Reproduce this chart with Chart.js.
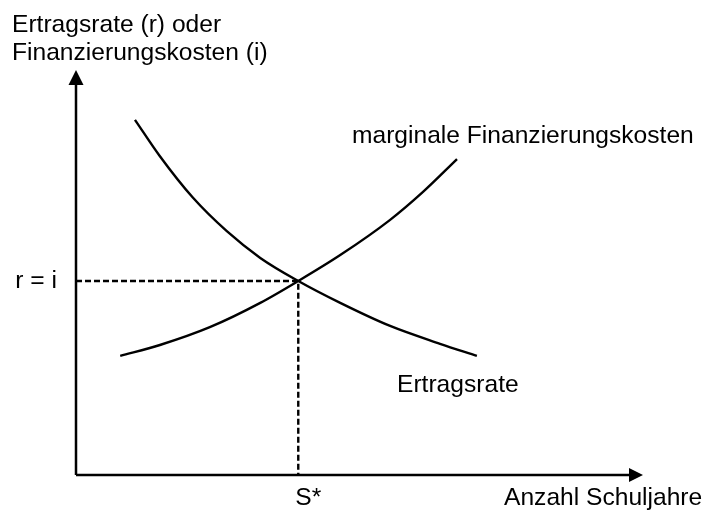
<!DOCTYPE html>
<html>
<head>
<meta charset="utf-8">
<script src="https://cdn.jsdelivr.net/npm/chart.js@4.4.1/dist/chart.umd.min.js"></script>
<style>
  html, body { margin: 0; padding: 0; background: #fff; }
  #wrap { width: 704px; height: 512px; }
</style>
</head>
<body>
<div id="wrap"><canvas id="chart" width="704" height="512"></canvas></div>
<script>
// Ertragsrate (fallend) und marginale Finanzierungskosten (steigend)
const ertragX = [10.4, 14.8, 20.6, 26.6, 32.5, 39.2, 46.6, 55.4, 64.2, 70.7];
const ertragY = [87.7, 78.7, 68.5, 60.2, 53.6, 47.9, 42.5, 36.8, 32.4, 29.4];
const kostenX = [7.8, 14.8, 23.6, 32.5, 39.2, 46.6, 55.4, 61.2, 67.2];
const kostenY = [29.4, 32.1, 36.5, 42.5, 47.9, 54.3, 63.0, 69.9, 78.0];

// Gleichgewicht
const sStar = 39.2;
const rEqualsI = 47.9;
const axisMax = 100;

const yTitle = ["Ertragsrate (r) oder", "Finanzierungskosten (i)"];
const xTitle = "Anzahl Schuljahre";
const curveLabels = ["Ertragsrate", "marginale Finanzierungskosten"];
const eqLabels = ["r = i", "S*"];

const FONT = "24.6px 'Liberation Sans', Arial, sans-serif";

const toPoints = (xs, ys) => xs.map((x, i) => ({ x: x, y: ys[i] }));

const curve = (data) => ({
    data: data,
    showLine: true,
    borderColor: "#000",
    borderWidth: 2.4,
    pointRadius: 0,
    cubicInterpolationMode: "monotone",
    fill: false
});

const guide = (data) => ({
    data: data,
    showLine: true,
    borderColor: "#000",
    borderWidth: 2.4,
    borderDash: [6, 3],
    pointRadius: 0,
    fill: false
});

// axes with arrow heads + all text labels
const diagramPlugin = {
    id: "diagram",
    afterDatasetsDraw(chart) {
        const ctx = chart.ctx;
        const xs = chart.scales.x, ys = chart.scales.y;
        const x0 = xs.getPixelForValue(0), y0 = ys.getPixelForValue(0);
        const xEnd = xs.getPixelForValue(axisMax), yEnd = ys.getPixelForValue(axisMax);

        ctx.save();
        ctx.strokeStyle = "#000";
        ctx.fillStyle = "#000";
        ctx.lineWidth = 2.5;
        ctx.beginPath();
        ctx.moveTo(x0, y0);
        ctx.lineTo(x0, yEnd + 12);
        ctx.moveTo(x0, y0);
        ctx.lineTo(xEnd - 12, y0);
        ctx.stroke();

        // arrow heads
        ctx.beginPath();
        ctx.moveTo(x0, yEnd);
        ctx.lineTo(x0 - 7.5, yEnd + 15);
        ctx.lineTo(x0 + 7.5, yEnd + 15);
        ctx.closePath();
        ctx.fill();
        ctx.beginPath();
        ctx.moveTo(xEnd, y0);
        ctx.lineTo(xEnd - 14, y0 - 7);
        ctx.lineTo(xEnd - 14, y0 + 7);
        ctx.closePath();
        ctx.fill();

        ctx.font = FONT;
        ctx.textBaseline = "alphabetic";
        ctx.textAlign = "left";
        ctx.fillText(yTitle[0], 12, 32);
        ctx.fillText(yTitle[1], 12, 60);
        ctx.fillText(xTitle, 504, 505);
        ctx.fillText(curveLabels[1], 352, 143);
        ctx.fillText(curveLabels[0], 397, 392);

        const sx = xs.getPixelForValue(sStar);
        const ry = ys.getPixelForValue(rEqualsI);
        ctx.fillText(eqLabels[1], sx - 3, 505);
        ctx.textAlign = "right";
        ctx.fillText(eqLabels[0], x0 - 19, ry + 7);
        ctx.restore();
    }
};

new Chart(document.getElementById("chart"), {
    type: "scatter",
    data: {
        datasets: [
            guide([{ x: 0, y: rEqualsI }, { x: sStar, y: rEqualsI }, { x: sStar, y: 0 }]),
            curve(toPoints(ertragX, ertragY)),
            curve(toPoints(kostenX, kostenY))
        ]
    },
    options: {
        responsive: false,
        animation: false,
        layout: { padding: { left: 76, right: 61, top: 70, bottom: 37 } },
        plugins: { legend: { display: false }, tooltip: { enabled: false } },
        scales: {
            x: { type: "linear", min: 0, max: axisMax, display: false },
            y: { type: "linear", min: 0, max: axisMax, display: false }
        }
    },
    plugins: [diagramPlugin]
});
</script>
</body>
</html>
